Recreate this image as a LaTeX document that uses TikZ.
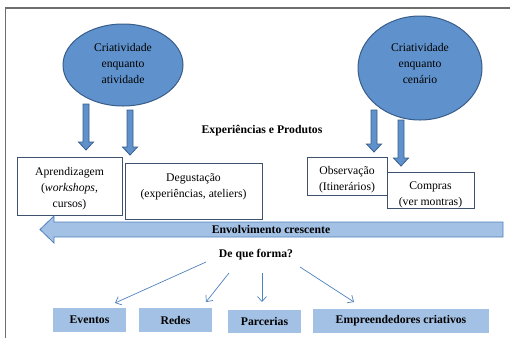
\documentclass[tikz,border=0pt]{standalone}
\usepackage{fontspec}
\setmainfont{Liberation Serif}
\usetikzlibrary{shapes.geometric,positioning,arrows.meta}

\definecolor{ovalblue}{RGB}{95,146,204}
\definecolor{ovalline}{RGB}{56,93,138}
\definecolor{paleblue}{RGB}{163,193,228}
\definecolor{boxline}{RGB}{62,82,112}
\definecolor{thinblue}{RGB}{79,129,189}
\definecolor{framegray}{RGB}{110,110,110}

\tikzset{
  oval/.style={ellipse, draw=ovalline, fill=ovalblue, line width=1pt, inner sep=0pt},
  ovaltxt/.style={align=center, inner sep=0pt},
  frbox/.style={draw=boxline, line width=0.8pt, inner sep=0pt},
  boxtxt/.style={align=center, inner sep=0pt},
  boldtxt/.style={font=\fontsize{11.7}{16}\selectfont\bfseries},
  formabox/.style={fill=paleblue, inner sep=0pt, boldtxt},
  darr/.style={draw=ovalline, fill=ovalblue, line width=0.8pt},
  bigarr/.style={draw=thinblue, fill=paleblue, line width=0.8pt},
  thinarr/.style={draw=thinblue, line width=0.7pt, -{Straight Barb[length=5pt,width=9pt]}},
  pics/downarr/.style={code={
    \draw[darr] (-3,0) -- (3,0) -- (3,#1-8) -- (7.5,#1-8) -- (0,#1) -- (-7.5,#1-8) -- (-3,#1-8) -- cycle;}}
}

\begin{document}
\begin{tikzpicture}[x=1pt, y=-1pt, font=\fontsize{11.7}{16}\selectfont]

  \useasboundingbox (0,0) rectangle (510,338);

  % frame, only top and left
  \draw[framegray, line width=1.2pt] (5.5,338) -- (5.5,8) -- (510,8);

  % ovals
  \node[oval, minimum width=120, minimum height=82] (atividade) at (123,65) {};
  \node[ovaltxt] (atividadetxt) at (123,63.5) {Criatividade\\enquanto\\atividade};
  \node[oval, minimum width=124, minimum height=104] (cenario) at (420,68) {};
  \node[ovaltxt] (cenariotxt) at (420,63) {Criatividade\\enquanto\\cenário};

  % block arrows down
  \pic at (86,104) {downarr=46};
  \pic at (130,110) {downarr=45};
  \pic at (374,110) {downarr=42};
  \pic at (401,120) {downarr=46};

  \node[boldtxt] (exper) at (262,131) {Experiências e Produtos};

  % boxes
  \node[frbox, minimum width=105, minimum height=58] (aprend) at (69.5,186) {};
  \node[boxtxt, below=10.5pt of aprend.north] (aprendtxt) {Aprendizagem\\(\textit{workshops},\\cursos)};
  \node[frbox, minimum width=137, minimum height=56] (degust) at (193.5,191) {};
  \node[boxtxt, below=10.5pt of degust.north] (degusttxt) {Degustação\\(experiências, ateliers)};
  \node[frbox, minimum width=80, minimum height=38] (observ) at (347,176) {};
  \node[boxtxt, below=9.5pt of observ.north] (observtxt) {Observação\\(Itinerários)};
  \node[frbox, fill=white, minimum width=87, minimum height=36] (compras) at (430.5,190) {};
  \node[boxtxt, below=9.5pt of compras.north] (comprastxt) {Compras\\(ver montras)};

  % envolvimento arrow
  \draw[bigarr] (503,222) -- (54,222) -- (54,216) -- (40,229.5) -- (54,243) -- (54,237) -- (503,237) -- cycle;
  \node[boldtxt] (envolv) at (271,229.5) {Envolvimento crescente};

  \node[boldtxt] (forma) at (256,255) {De que forma?};

  % ways
  \node[formabox, minimum width=73, minimum height=24] (eventos) at (89.5,320) {Eventos};
  \node[formabox, minimum width=73, minimum height=24] (redes) at (175.5,320) {Redes};
  \node[formabox, minimum width=73, minimum height=23] (parcerias) at (264.5,321.5) {Parcerias};
  \node[formabox, minimum width=176, minimum height=24] (empreend) at (401,321) {Empreendedores criativos};

  \coordinate (f1) at (206,262);
  \coordinate (f2) at (229,273);
  \coordinate (f3) at (262,273);
  \coordinate (f4) at (300,267);
  \coordinate (e1) at (115,303);
  \coordinate (e2) at (206,302);
  \coordinate (e3) at (262,302);
  \coordinate (e4) at (354,302);
  \draw[thinarr] (f1) -- (e1);
  \draw[thinarr] (f2) -- (e2);
  \draw[thinarr] (f3) -- (e3);
  \draw[thinarr] (f4) -- (e4);

\end{tikzpicture}
\end{document}
